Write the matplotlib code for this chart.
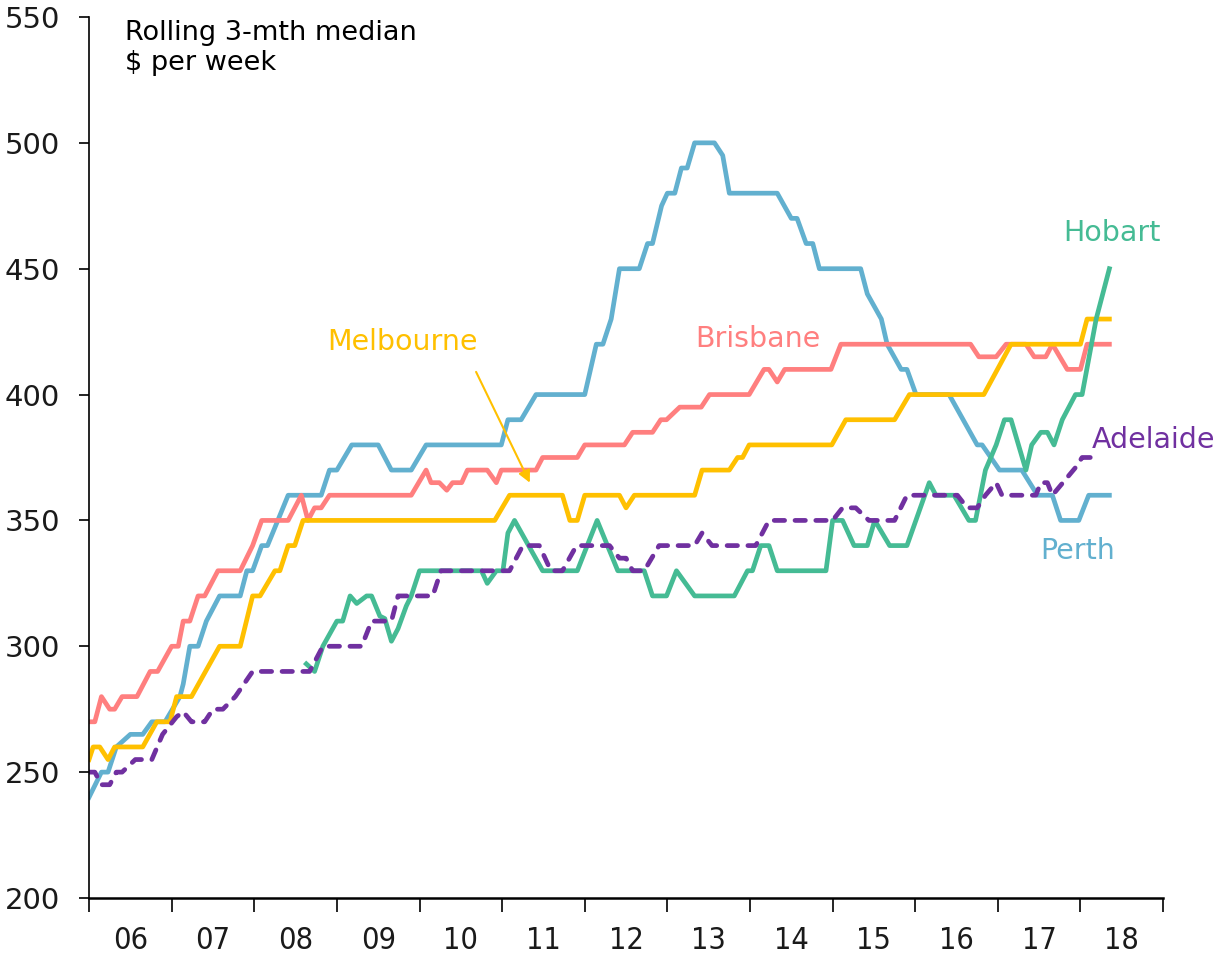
import matplotlib.pyplot as plt
import numpy as np

# breakpoints: (decimal year, $ per week)
perth_t = [2006.00, 2006.15, 2006.23, 2006.33, 2006.50, 2006.65, 2006.76, 2006.92, 2007.10, 2007.14,
           2007.22, 2007.32, 2007.42, 2007.58, 2007.83, 2007.91, 2007.98, 2008.09, 2008.16, 2008.41,
           2008.81, 2008.91, 2009.00, 2009.18, 2009.50, 2009.66, 2009.90, 2010.08, 2010.99, 2011.07,
           2011.23, 2011.41, 2012.00, 2012.14, 2012.22, 2012.32, 2012.42, 2012.66, 2012.76, 2012.82,
           2012.93, 2013.00, 2013.09, 2013.17, 2013.24, 2013.33, 2013.57, 2013.67, 2013.75, 2014.33,
           2014.50, 2014.57, 2014.68, 2014.76, 2014.84, 2015.34, 2015.42, 2015.59, 2015.66, 2015.83,
           2015.90, 2016.01, 2016.41, 2016.75, 2016.81, 2017.02, 2017.29, 2017.48, 2017.66, 2017.76,
           2017.98, 2018.10, 2018.35]
perth_v = [240, 250, 250, 260, 265, 265, 270, 270, 280, 285,
           300, 300, 310, 320, 320, 330, 330, 340, 340, 360,
           360, 370, 370, 380, 380, 370, 370, 380, 380, 390,
           390, 400, 400, 420, 420, 430, 450, 450, 460, 460,
           475, 480, 480, 490, 490, 500, 500, 495, 480, 480,
           470, 470, 460, 460, 450, 450, 440, 430, 420, 410,
           410, 400, 400, 380, 380, 370, 370, 360, 360, 350,
           350, 360, 360]

brisbane_t = [2006.00, 2006.07, 2006.15, 2006.25, 2006.31, 2006.40, 2006.58, 2006.74, 2006.83, 2007.00,
              2007.08, 2007.14, 2007.22, 2007.32, 2007.40, 2007.56, 2007.83, 2007.98, 2008.09, 2008.41,
              2008.57, 2008.65, 2008.73, 2008.81, 2008.91, 2009.90, 2010.08, 2010.14, 2010.24, 2010.33,
              2010.40, 2010.51, 2010.58, 2010.82, 2010.93, 2010.99, 2011.41, 2011.49, 2011.91, 2012.00,
              2012.48, 2012.58, 2012.82, 2012.92, 2012.99, 2013.15, 2013.41, 2013.51, 2013.99, 2014.17,
              2014.23, 2014.33, 2014.42, 2014.98, 2015.10, 2016.67, 2016.77, 2016.98, 2017.10, 2017.34,
              2017.44, 2017.58, 2017.66, 2017.84, 2018.00, 2018.08, 2018.35]
brisbane_v = [270, 270, 280, 275, 275, 280, 280, 290, 290, 300,
              300, 310, 310, 320, 320, 330, 330, 340, 350, 350,
              360, 350, 355, 355, 360, 360, 370, 365, 365, 362,
              365, 365, 370, 370, 365, 370, 370, 375, 375, 380,
              380, 385, 385, 390, 390, 395, 395, 400, 400, 410,
              410, 405, 410, 410, 420, 420, 415, 415, 420, 420,
              415, 415, 420, 410, 410, 420, 420]

melbourne_t = [2006.00, 2006.05, 2006.13, 2006.23, 2006.31, 2006.65, 2006.82, 2006.98, 2007.06, 2007.24,
               2007.58, 2007.83, 2007.98, 2008.07, 2008.25, 2008.31, 2008.41, 2008.49, 2008.59, 2010.91,
               2011.09, 2011.73, 2011.82, 2011.91, 2012.00, 2012.42, 2012.50, 2012.60, 2012.66, 2013.33,
               2013.42, 2013.75, 2013.85, 2013.91, 2013.99, 2014.99, 2015.16, 2015.75, 2015.93, 2016.83,
               2017.16, 2018.00, 2018.08, 2018.35]
melbourne_v = [255, 260, 260, 255, 260, 260, 270, 270, 280, 280,
               300, 300, 320, 320, 330, 330, 340, 340, 350, 350,
               360, 360, 350, 350, 360, 360, 355, 360, 360, 360,
               370, 370, 375, 375, 380, 380, 390, 390, 400, 400,
               420, 420, 430, 430]

hobart_t = [2008.63, 2008.73, 2008.83, 2009.00, 2009.07, 2009.16, 2009.24, 2009.36, 2009.42, 2009.52,
            2009.58, 2009.66, 2009.74, 2009.84, 2009.90, 2010.00, 2010.75, 2010.82, 2010.93, 2011.01,
            2011.07, 2011.15, 2011.49, 2011.91, 2012.15, 2012.40, 2012.72, 2012.82, 2012.99, 2013.11,
            2013.33, 2013.81, 2013.97, 2014.03, 2014.13, 2014.23, 2014.33, 2014.92, 2015.00, 2015.12,
            2015.26, 2015.42, 2015.51, 2015.69, 2015.90, 2016.17, 2016.25, 2016.47, 2016.65, 2016.73,
            2016.85, 2016.98, 2017.08, 2017.16, 2017.34, 2017.41, 2017.52, 2017.60, 2017.68, 2017.78,
            2017.94, 2018.02, 2018.19, 2018.35]
hobart_v = [293, 290, 300, 310, 310, 320, 317, 320, 320, 312,
            311, 302, 307, 316, 320, 330, 330, 325, 330, 330,
            345, 350, 330, 330, 350, 330, 330, 320, 320, 330,
            320, 320, 330, 330, 340, 340, 330, 330, 350, 350,
            340, 340, 350, 340, 340, 365, 360, 360, 350, 350,
            370, 380, 390, 390, 370, 380, 385, 385, 380, 390,
            400, 400, 430, 450]

adelaide_t = [2006.00, 2006.07, 2006.15, 2006.25, 2006.33, 2006.40, 2006.56, 2006.76, 2006.89, 2007.06,
              2007.14, 2007.24, 2007.40, 2007.50, 2007.62, 2007.77, 2007.98, 2008.67, 2008.83, 2009.30,
              2009.42, 2009.66, 2009.74, 2010.16, 2010.26, 2011.09, 2011.25, 2011.45, 2011.59, 2011.73,
              2011.90, 2012.30, 2012.42, 2012.50, 2012.58, 2012.72, 2012.90, 2013.33, 2013.42, 2013.54,
              2014.07, 2014.23, 2015.00, 2015.12, 2015.28, 2015.44, 2015.75, 2015.90, 2016.51, 2016.63,
              2016.75, 2016.85, 2016.98, 2017.05, 2017.46, 2017.52, 2017.60, 2017.66, 2017.94, 2018.02,
              2018.14]
adelaide_v = [250, 250, 245, 245, 250, 250, 255, 255, 265, 272,
              274, 270, 270, 275, 275, 280, 290, 290, 300, 300,
              310, 310, 320, 320, 330, 330, 340, 340, 330, 330,
              340, 340, 335, 335, 330, 330, 340, 340, 345, 340,
              340, 350, 350, 355, 355, 350, 350, 360, 360, 355,
              355, 360, 365, 360, 360, 365, 365, 360, 371, 375,
              375]

years = list(range(2006, 2020))
year_labels = ['06', '07', '08', '09', '10', '11', '12', '13', '14', '15', '16', '17', '18']

c_perth = '#62b0cf'
c_bris = '#ff7f7f'
c_melb = '#ffc000'
c_hob = '#45bb94'
c_adl = '#7030a0'

plt.rcParams['font.family'] = ['DejaVu Sans']

fig = plt.figure(figsize=(12.23, 9.55), dpi=100)
ax = fig.add_axes([0.0728, 0.0597, 0.8782, 0.9225])

lw = 3.4
ax.plot(perth_t, perth_v, color=c_perth, lw=lw, solid_joinstyle='round')
ax.plot(brisbane_t, brisbane_v, color=c_bris, lw=lw, solid_joinstyle='round')
ax.plot(melbourne_t, melbourne_v, color=c_melb, lw=lw, solid_joinstyle='round')
ax.plot(hobart_t, hobart_v, color=c_hob, lw=lw, solid_joinstyle='round')
ax.plot(adelaide_t, adelaide_v, color=c_adl, lw=lw, linestyle=(0, (2.2, 2.2)),
        dash_capstyle='round', dash_joinstyle='round')

ax.set_xlim(2006, 2019)
ax.set_ylim(200, 550)

ax.set_xticks(years)
ax.set_xticklabels([])
ax.set_xticks([y + 0.5 for y in years[:-1]], minor=True)
ax.set_xticklabels(year_labels, minor=True, fontsize=22, fontstretch='condensed',
                   color='#1a1a1a')
ax.tick_params(axis='x', which='major', direction='out', length=10, width=1.2)
ax.tick_params(axis='x', which='minor', length=0, pad=20)

ax.set_yticks(np.arange(200, 551, 50))
ax.tick_params(axis='y', direction='out', length=7, width=1.2, labelsize=21,
               labelcolor='#1a1a1a', pad=14)

for s in ['top', 'right']:
    ax.spines[s].set_visible(False)
ax.spines['left'].set_linewidth(1.2)
ax.spines['bottom'].set_linewidth(1.8)

ax.text(2006.43, 549, 'Rolling 3-mth median\n$ per week', fontsize=19.5, va='top',
        ha='left', linespacing=1.2)

ax.text(2009.80, 421, 'Melbourne', color=c_melb, fontsize=20.5, ha='center', va='center')
ax.annotate('', xy=(2011.35, 364), xytext=(2010.67, 410),
            arrowprops=dict(arrowstyle='-|>', color=c_melb, lw=1.5, mutation_scale=18))
ax.text(2014.10, 422, 'Brisbane', color=c_bris, fontsize=20.5, ha='center', va='center')
ax.text(2018.38, 464, 'Hobart', color=c_hob, fontsize=20.5, ha='center', va='center')
ax.text(2018.88, 382, 'Adelaide', color=c_adl, fontsize=20.5, ha='center', va='center')
ax.text(2017.97, 338, 'Perth', color=c_perth, fontsize=20.5, ha='center', va='center')

fig.savefig('out.png', dpi=100)
